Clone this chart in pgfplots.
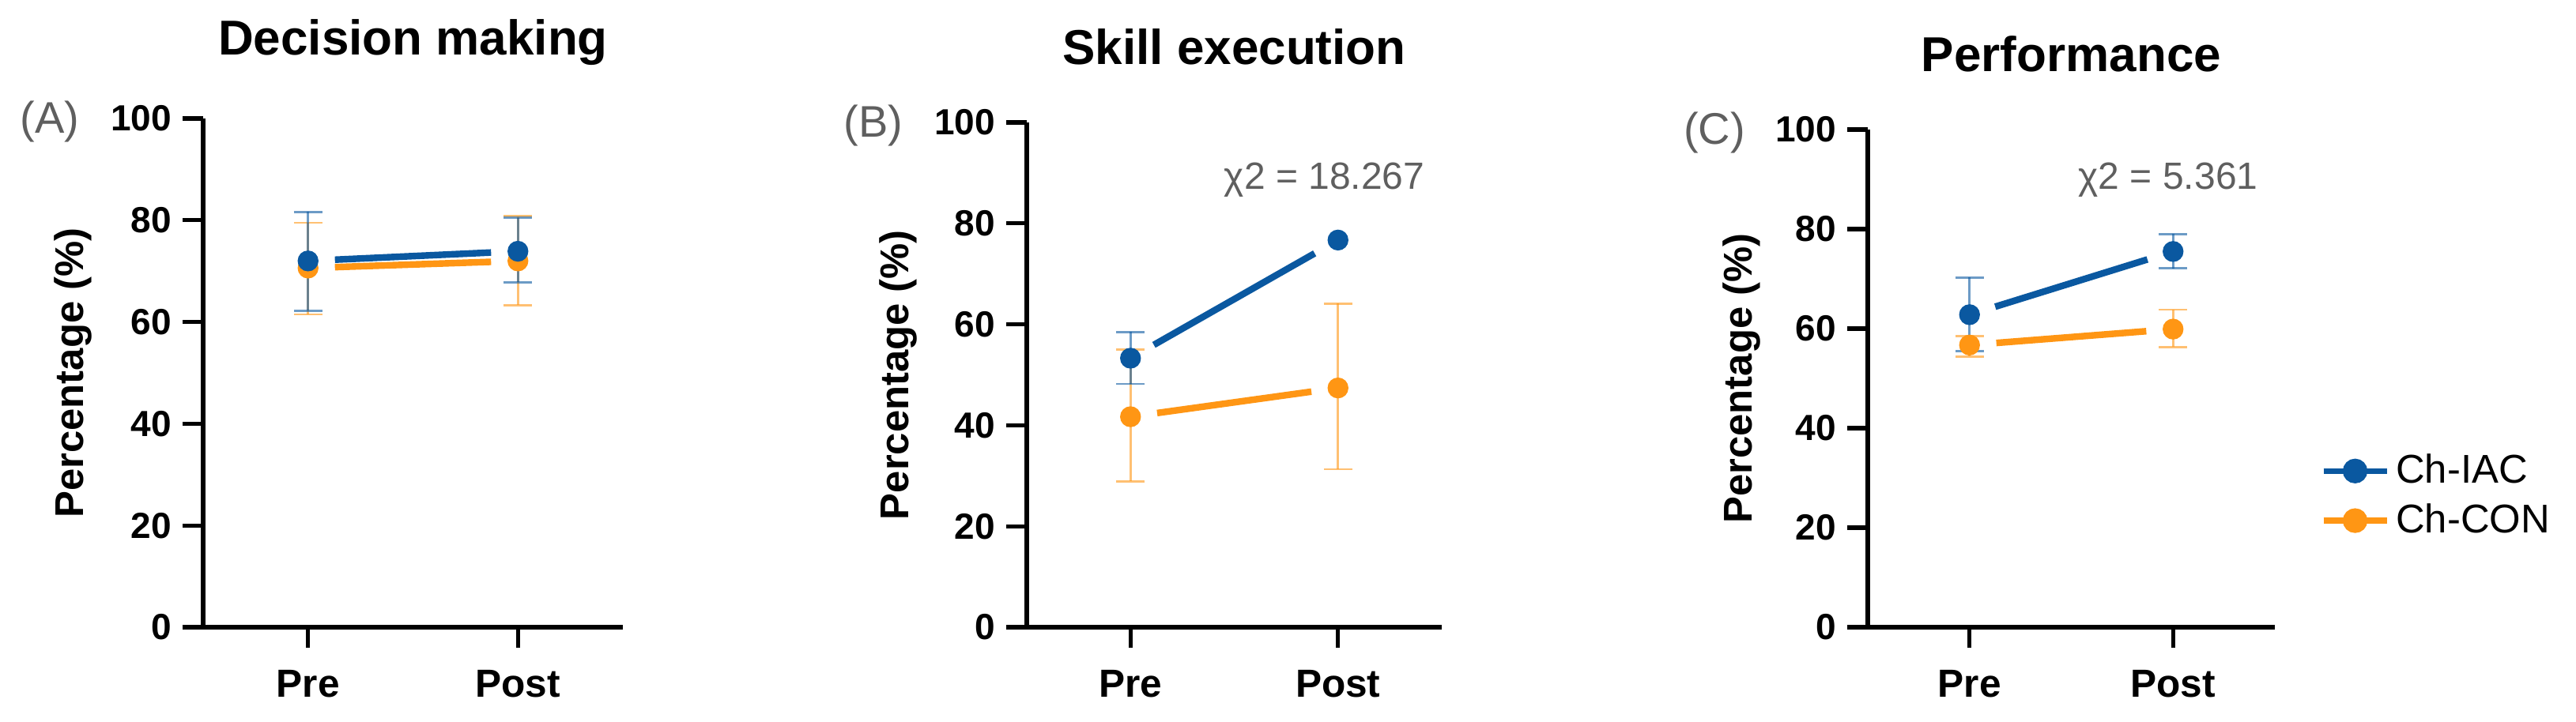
\documentclass[border=0pt]{standalone}
\usepackage{fontspec}
\setmainfont{Liberation Sans}
\usepackage{pgfplots}
\pgfplotsset{compat=1.18}
\usepackage{pgfplotstable}
\definecolor{iac}{RGB}{10,88,160}
\definecolor{con}{RGB}{255,150,20}
\definecolor{lbl}{RGB}{95,95,95}

% Decision making
\pgfplotstableread{
x y ep em
0 72.0 9.6 9.8
1 73.9 6.6 6.1
}\AIAC
\pgfplotstableread{
x y ep em
0 70.6 8.9 9.1
1 72.0 8.8 8.7
}\ACON
% Skill execution
\pgfplotstableread{
x y ep em
0 53.3 5.2 5.1
1 76.7 0.0 0.0
}\BIAC
\pgfplotstableread{
x y ep em
0 41.7 13.3 12.8
1 47.4 16.7 16.1
}\BCON
% Performance
\pgfplotstableread{
x y ep em
0 62.8 7.5 7.3
1 75.5 3.5 3.4
}\CIAC
\pgfplotstableread{
x y ep em
0 56.7 1.8 2.3
1 59.9 3.9 3.6
}\CCON

\newcommand{\ylab}{{\fontsize{12.7}{14}\selectfont\bfseries Percentage (\%)}}
\newcommand{\legtxt}[1]{{\fontsize{12.7}{14}\selectfont #1}}
\tikzset{
 panlab/.style={text=lbl, font=\fontsize{14}{14}\selectfont, anchor=center},
 chi/.style={text=lbl, font=\fontsize{12}{12}\selectfont, anchor=center},
}
\pgfplotsset{
 panel/.style={
  scale only axis, anchor=south west, clip=false,
  axis x line=bottom, axis y line=left,
  axis line style={-, line width=1.3pt, black},
  xmin=-0.5, xmax=1.5, ymin=0, ymax=100,
  xtick={0,1}, xticklabels={Pre,Post},
  ytick={0,20,40,60,80,100},
  tick align=outside, major tick length=6.5pt,
  tick style={line width=1.3pt, black},
  /pgf/number format/assume math mode=true,
  yticklabel style={font=\bfseries\fontsize{11.5}{11.5}\selectfont},
  xticklabel style={font=\bfseries\fontsize{12.4}{12.4}\selectfont, yshift=-3.5pt},
  ylabel={\ylab},
  every axis y label/.style={at={(axis description cs:-0.31,0.5)}, rotate=90, anchor=center},
  title style={at={(axis description cs:0.5,1)}, anchor=center, yshift=18pt, font=\bfseries\fontsize{15.5}{15.5}\selectfont},
 },
 ln/.style={#1, line width=2.1pt, shorten <=8.5pt, shorten >=8.5pt, forget plot},
 pts/.style={#1, only marks, mark=*, mark size=3.1pt, forget plot,
   error bars/.cd, y dir=both, y explicit,
   error bar style={line width=0.7pt, #1, opacity=0.6},
   error mark options={rotate=90, mark size=4.5pt, line width=0.7pt, #1, opacity=0.6}},
 dots/.style={#1, only marks, mark=*, mark size=3.1pt, forget plot},
}

\begin{document}
\begin{tikzpicture}
\useasboundingbox (0,0) rectangle (814.75pt,228.25pt);

\begin{axis}[panel, at={(64.25pt,29.75pt)}, width=132.75pt, height=161pt,
  title={Decision making}]
\addplot[ln=con] table[x=x,y=y]{\ACON};
\addplot[ln=iac] table[x=x,y=y]{\AIAC};
\addplot[pts=con] table[x=x,y=y,y error plus=ep,y error minus=em]{\ACON};
\addplot[pts=iac] table[x=x,y=y,y error plus=ep,y error minus=em]{\AIAC};
\node[panlab] at ([xshift=-48.5pt,yshift=-1pt]rel axis cs:0,1) {(A)};
\end{axis}

\begin{axis}[panel, at={(324.75pt,29.75pt)}, width=131.25pt, height=159.75pt,
  title={Skill execution}]
\addplot[ln=con] table[x=x,y=y]{\BCON};
\addplot[ln=iac] table[x=x,y=y]{\BIAC};
\addplot[pts=con] table[x=x,y=y,y error plus=ep,y error minus=em]{\BCON};
\addplot[skip coords between index={1}{2}, pts=iac] table[x=x,y=y,y error plus=ep,y error minus=em]{\BIAC};
\addplot[skip coords between index={0}{1}, dots=iac] table[x=x,y=y]{\BIAC};
\node[chi] at (axis cs:0.935,88.6) {χ2 = 18.267};
\node[panlab] at ([xshift=-48.5pt,yshift=-1pt]rel axis cs:0,1) {(B)};
\end{axis}

\begin{axis}[panel, at={(590.75pt,29.75pt)}, width=128.75pt, height=157.5pt,
  title={Performance},
  legend style={at={(1.111,0.264)}, anchor=west, draw=none, fill=none, inner sep=0pt, row sep=1pt},
  legend cell align=left,
  legend image code/.code={\draw[mark repeat=2,mark phase=2,#1] plot coordinates {(0pt,0pt) (10pt,0pt) (20pt,0pt)};}]
\addlegendimage{iac, line width=1.8pt, mark=*, mark size=3pt}
\addlegendentry{\legtxt{Ch-IAC}}
\addlegendimage{con, line width=1.8pt, mark=*, mark size=3pt}
\addlegendentry{\legtxt{Ch-CON}}
\addplot[ln=con] table[x=x,y=y]{\CCON};
\addplot[ln=iac] table[x=x,y=y]{\CIAC};
\addplot[pts=con] table[x=x,y=y,y error plus=ep,y error minus=em]{\CCON};
\addplot[pts=iac] table[x=x,y=y,y error plus=ep,y error minus=em]{\CIAC};
\node[chi] at (axis cs:0.976,89.9) {χ2 = 5.361};
\node[panlab] at ([xshift=-48.5pt,yshift=-1pt]rel axis cs:0,1) {(C)};
\end{axis}
\end{tikzpicture}
\end{document}
